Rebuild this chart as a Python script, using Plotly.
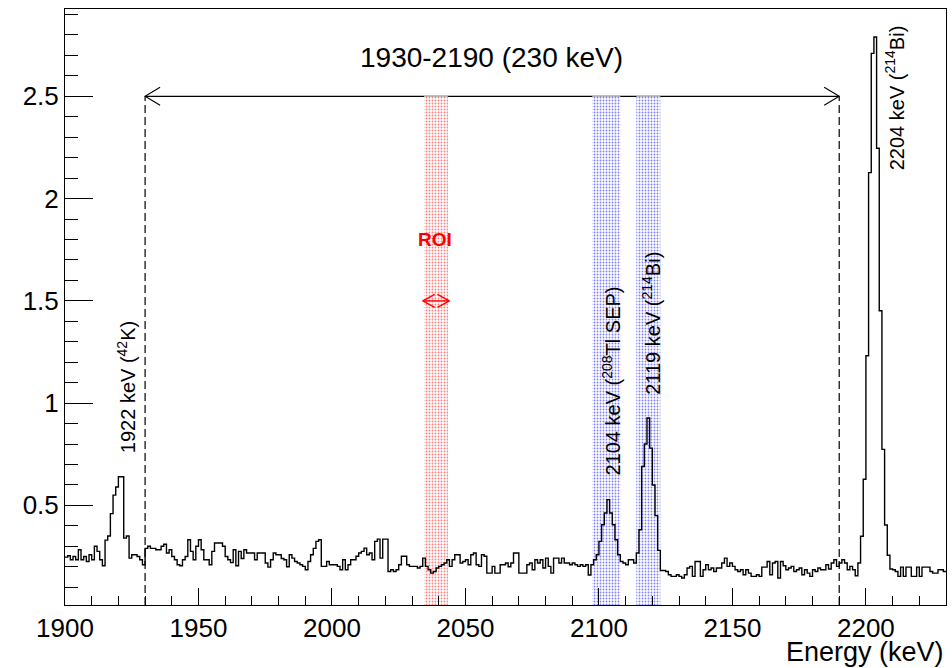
import plotly.graph_objects as go

# Energy spectrum, 1 keV bins from 1900 keV
BIN_LO = 1900
BIN_WIDTH = 1
counts = [
    0.247, 0.254, 0.234, 0.250, 0.234, 0.283, 0.234, 0.250, 0.226, 0.259,  # 1900
    0.234, 0.300, 0.275, 0.234, 0.205, 0.330, 0.350, 0.460, 0.550, 0.590,  # 1910
    0.640, 0.640, 0.340, 0.350, 0.242, 0.259, 0.259, 0.250, 0.234, 0.210,  # 1920
    0.290, 0.300, 0.290, 0.290, 0.283, 0.283, 0.300, 0.310, 0.267, 0.283,  # 1930
    0.250, 0.234, 0.210, 0.205, 0.234, 0.250, 0.332, 0.275, 0.234, 0.300,  # 1940
    0.332, 0.283, 0.234, 0.234, 0.210, 0.275, 0.316, 0.316, 0.316, 0.300,  # 1950
    0.250, 0.234, 0.220, 0.283, 0.205, 0.275, 0.240, 0.283, 0.267, 0.267,  # 1960
    0.267, 0.234, 0.267, 0.267, 0.267, 0.218, 0.198, 0.234, 0.267, 0.259,  # 1970
    0.259, 0.240, 0.234, 0.200, 0.259, 0.242, 0.226, 0.218, 0.210, 0.202,  # 1980
    0.185, 0.226, 0.259, 0.290, 0.324, 0.332, 0.202, 0.202, 0.226, 0.210,  # 1990
    0.210, 0.210, 0.202, 0.185, 0.234, 0.185, 0.210, 0.234, 0.234, 0.251,  # 2000
    0.267, 0.275, 0.291, 0.259, 0.267, 0.234, 0.324, 0.335, 0.242, 0.335,  # 2010
    0.335, 0.177, 0.185, 0.177, 0.185, 0.210, 0.251, 0.251, 0.210, 0.202,  # 2020
    0.202, 0.202, 0.194, 0.202, 0.242, 0.202, 0.185, 0.169, 0.177, 0.194,  # 2030
    0.202, 0.210, 0.218, 0.234, 0.202, 0.234, 0.259, 0.259, 0.218, 0.226,  # 2040
    0.234, 0.210, 0.259, 0.267, 0.210, 0.202, 0.259, 0.251, 0.169, 0.169,  # 2050
    0.202, 0.169, 0.169, 0.210, 0.210, 0.218, 0.200, 0.218, 0.267, 0.267,  # 2060
    0.169, 0.169, 0.169, 0.210, 0.218, 0.185, 0.234, 0.218, 0.234, 0.194,  # 2070
    0.242, 0.202, 0.169, 0.242, 0.242, 0.218, 0.242, 0.218, 0.218, 0.210,  # 2080
    0.218, 0.210, 0.202, 0.210, 0.202, 0.210, 0.160, 0.210, 0.234, 0.259,  # 2090
    0.324, 0.405, 0.463, 0.528, 0.463, 0.405, 0.332, 0.259, 0.226, 0.218,  # 2100
    0.210, 0.234, 0.234, 0.218, 0.267, 0.381, 0.690, 0.800, 0.927, 0.780,  # 2110
    0.600, 0.450, 0.280, 0.182, 0.182, 0.177, 0.161, 0.153, 0.153, 0.161,  # 2120
    0.153, 0.145, 0.161, 0.194, 0.202, 0.153, 0.226, 0.226, 0.153, 0.185,  # 2130
    0.210, 0.185, 0.194, 0.177, 0.194, 0.194, 0.218, 0.242, 0.202, 0.218,  # 2140
    0.202, 0.185, 0.177, 0.185, 0.161, 0.185, 0.169, 0.153, 0.153, 0.161,  # 2150
    0.153, 0.198, 0.198, 0.226, 0.161, 0.218, 0.226, 0.145, 0.226, 0.205,  # 2160
    0.185, 0.194, 0.202, 0.177, 0.185, 0.194, 0.161, 0.185, 0.169, 0.153,  # 2170
    0.185, 0.177, 0.194, 0.185, 0.185, 0.210, 0.189, 0.218, 0.234, 0.202,  # 2180
    0.218, 0.234, 0.218, 0.185, 0.202, 0.185, 0.156, 0.218, 0.349, 0.628,  # 2190
    1.232, 2.127, 2.710, 2.790, 2.246, 1.452, 0.774, 0.404, 0.256, 0.189,  # 2200
    0.185, 0.177, 0.153, 0.198, 0.153, 0.198, 0.198, 0.153, 0.153, 0.198,  # 2210
    0.153, 0.198, 0.198, 0.198, 0.177, 0.169, 0.169, 0.185, 0.185, 0.177,  # 2220
]

# Axis ranges
X_RANGE = [1900, 2230]
Y_RANGE = [0.013, 2.927]

# Background window and its marker height
WINDOW = [1930, 2190]
WINDOW_Y = 2.5
WINDOW_TEXT = "1930-2190 (230 keV)"

# Shaded bands: region of interest (red) and excluded peaks (blue)
band_lo = [2034.5, 2097.5, 2114.0]
band_hi = [2043.5, 2108.0, 2123.0]
band_colors = ["#ff0000", "#0000ff", "#0000ff"]

ROI_ARROW = [2034, 2044]
ROI_ARROW_Y = 1.5

# Rotated peak labels: (text, x centre, y of text start)
peak_texts = ["1922 keV (<sup>42</sup>K)",
              "2104 keV (<sup>208</sup>Tl SEP)",
              "2119 keV (<sup>214</sup>Bi)",
              "2204 keV (<sup>214</sup>Bi)"]
peak_x = [1922.8, 2104.6, 2119.6, 2210.8]
peak_y = [0.745, 0.635, 1.03, 2.13]

FONT = "Liberation Sans, Arial, Helvetica, sans-serif"

# Plot-area geometry (pixels), used to size arrow heads in data units
W, H = 952, 668
M_L, M_R, M_T, M_B = 65, 6, 9, 63
PX_X = (W - M_L - M_R) / (X_RANGE[1] - X_RANGE[0])
PX_Y = (H - M_T - M_B) / (Y_RANGE[1] - Y_RANGE[0])

edges = [BIN_LO + i * BIN_WIDTH for i in range(len(counts) + 1)]


def open_head(x_tip, y, direction, length_px, half_px):
    """Open V-shaped arrow head; direction -1 points left, +1 right."""
    dx = -direction * length_px / PX_X
    dy = half_px / PX_Y
    return [x_tip + dx, x_tip, x_tip + dx, None], [y + dy, y, y - dy, None]


fig = go.Figure()

# Shaded bands (drawn first so the spectrum sits on top)
for lo, hi, col in zip(band_lo, band_hi, band_colors):
    fig.add_trace(go.Bar(
        x=[(lo + hi) / 2], y=[WINDOW_Y - Y_RANGE[0]], base=[Y_RANGE[0]],
        width=[hi - lo],
        marker=dict(color="white", line=dict(width=0),
                    pattern=dict(shape=".", fgcolor=col, bgcolor="white",
                                 size=3, solidity=0.3, fillmode="overlay")),
        hoverinfo="skip", showlegend=False,
    ))

# Spectrum as a step histogram
fig.add_trace(go.Scatter(
    x=edges, y=counts + [counts[-1]],
    mode="lines", line=dict(color="black", width=1.4, shape="hv"),
    showlegend=False, hoverinfo="skip",
))

# Arrow heads of the window marker
hx, hy = [], []
for xt, d in ((WINDOW[0], -1), (WINDOW[1], 1)):
    a, b = open_head(xt, WINDOW_Y, d, 15, 9)
    hx += a
    hy += b
fig.add_trace(go.Scatter(x=hx, y=hy, mode="lines",
                         line=dict(color="black", width=1.1),
                         showlegend=False, hoverinfo="skip"))

# ROI double arrow
rx, ry = [ROI_ARROW[0], ROI_ARROW[1], None], [ROI_ARROW_Y, ROI_ARROW_Y, None]
for xt, d in ((ROI_ARROW[0], -1), (ROI_ARROW[1], 1)):
    a, b = open_head(xt, ROI_ARROW_Y, d, 12, 6.5)
    rx += a
    ry += b
fig.add_trace(go.Scatter(x=rx, y=ry, mode="lines",
                         line=dict(color="#ff0000", width=1.4),
                         showlegend=False, hoverinfo="skip"))

shapes = [
    dict(type="line", xref="x", yref="y", layer="below",
         x0=WINDOW[0], x1=WINDOW[1], y0=WINDOW_Y, y1=WINDOW_Y,
         line=dict(color="black", width=1.3)),
]
for xv in WINDOW:
    shapes.append(dict(type="line", xref="x", yref="y",
                       x0=xv, x1=xv, y0=Y_RANGE[0], y1=WINDOW_Y,
                       line=dict(color="black", width=1.2, dash="8px,4px")))

annotations = [
    dict(x=(WINDOW[0] + WINDOW[1]) / 2 - 0.3, y=2.69, xref="x", yref="y",
         text=WINDOW_TEXT, showarrow=False,
         font=dict(family=FONT, size=28, color="black")),
    dict(x=2038.7, y=1.80, xref="x", yref="y", text="<b>ROI</b>",
         showarrow=False, font=dict(family=FONT, size=19, color="#ff0000")),
    # x-axis title, right aligned
    dict(x=1.0, y=-0.079, xref="paper", yref="paper", xanchor="right",
         yanchor="middle", text="Energy (keV)", showarrow=False,
         font=dict(family=FONT, size=27, color="black")),
]
for t, xv, yv in zip(peak_texts, peak_x, peak_y):
    annotations.append(dict(x=xv, y=yv, xref="x", yref="y", text=t,
                            textangle=-90, xanchor="center", yanchor="bottom",
                            showarrow=False,
                            font=dict(family=FONT, size=20, color="black")))

fig.update_layout(
    width=W, height=H,
    margin=dict(l=M_L, r=M_R, t=M_T, b=M_B),
    paper_bgcolor="white", plot_bgcolor="white",
    barmode="overlay", showlegend=False,
    shapes=shapes, annotations=annotations,
    font=dict(family=FONT, color="black"),
    xaxis=dict(range=X_RANGE, showgrid=False, zeroline=False,
               showline=True, linecolor="black", linewidth=1, mirror=True,
               ticks="inside", ticklen=17, tickwidth=1, tickcolor="black",
               tick0=1900, dtick=50, tickfont=dict(family=FONT, size=26),
               minor=dict(dtick=10, ticks="inside", ticklen=9,
                          tickwidth=1, tickcolor="black", showgrid=False)),
    yaxis=dict(range=Y_RANGE, showgrid=False, zeroline=False,
               showline=True, linecolor="black", linewidth=1, mirror=True,
               ticks="inside", ticklen=28, tickwidth=1, tickcolor="black",
               tick0=0, dtick=0.5, tickfont=dict(family=FONT, size=26),
               minor=dict(dtick=0.1, ticks="inside", ticklen=13,
                          tickwidth=1, tickcolor="black", showgrid=False)),
)

fig.write_html("out.html")
